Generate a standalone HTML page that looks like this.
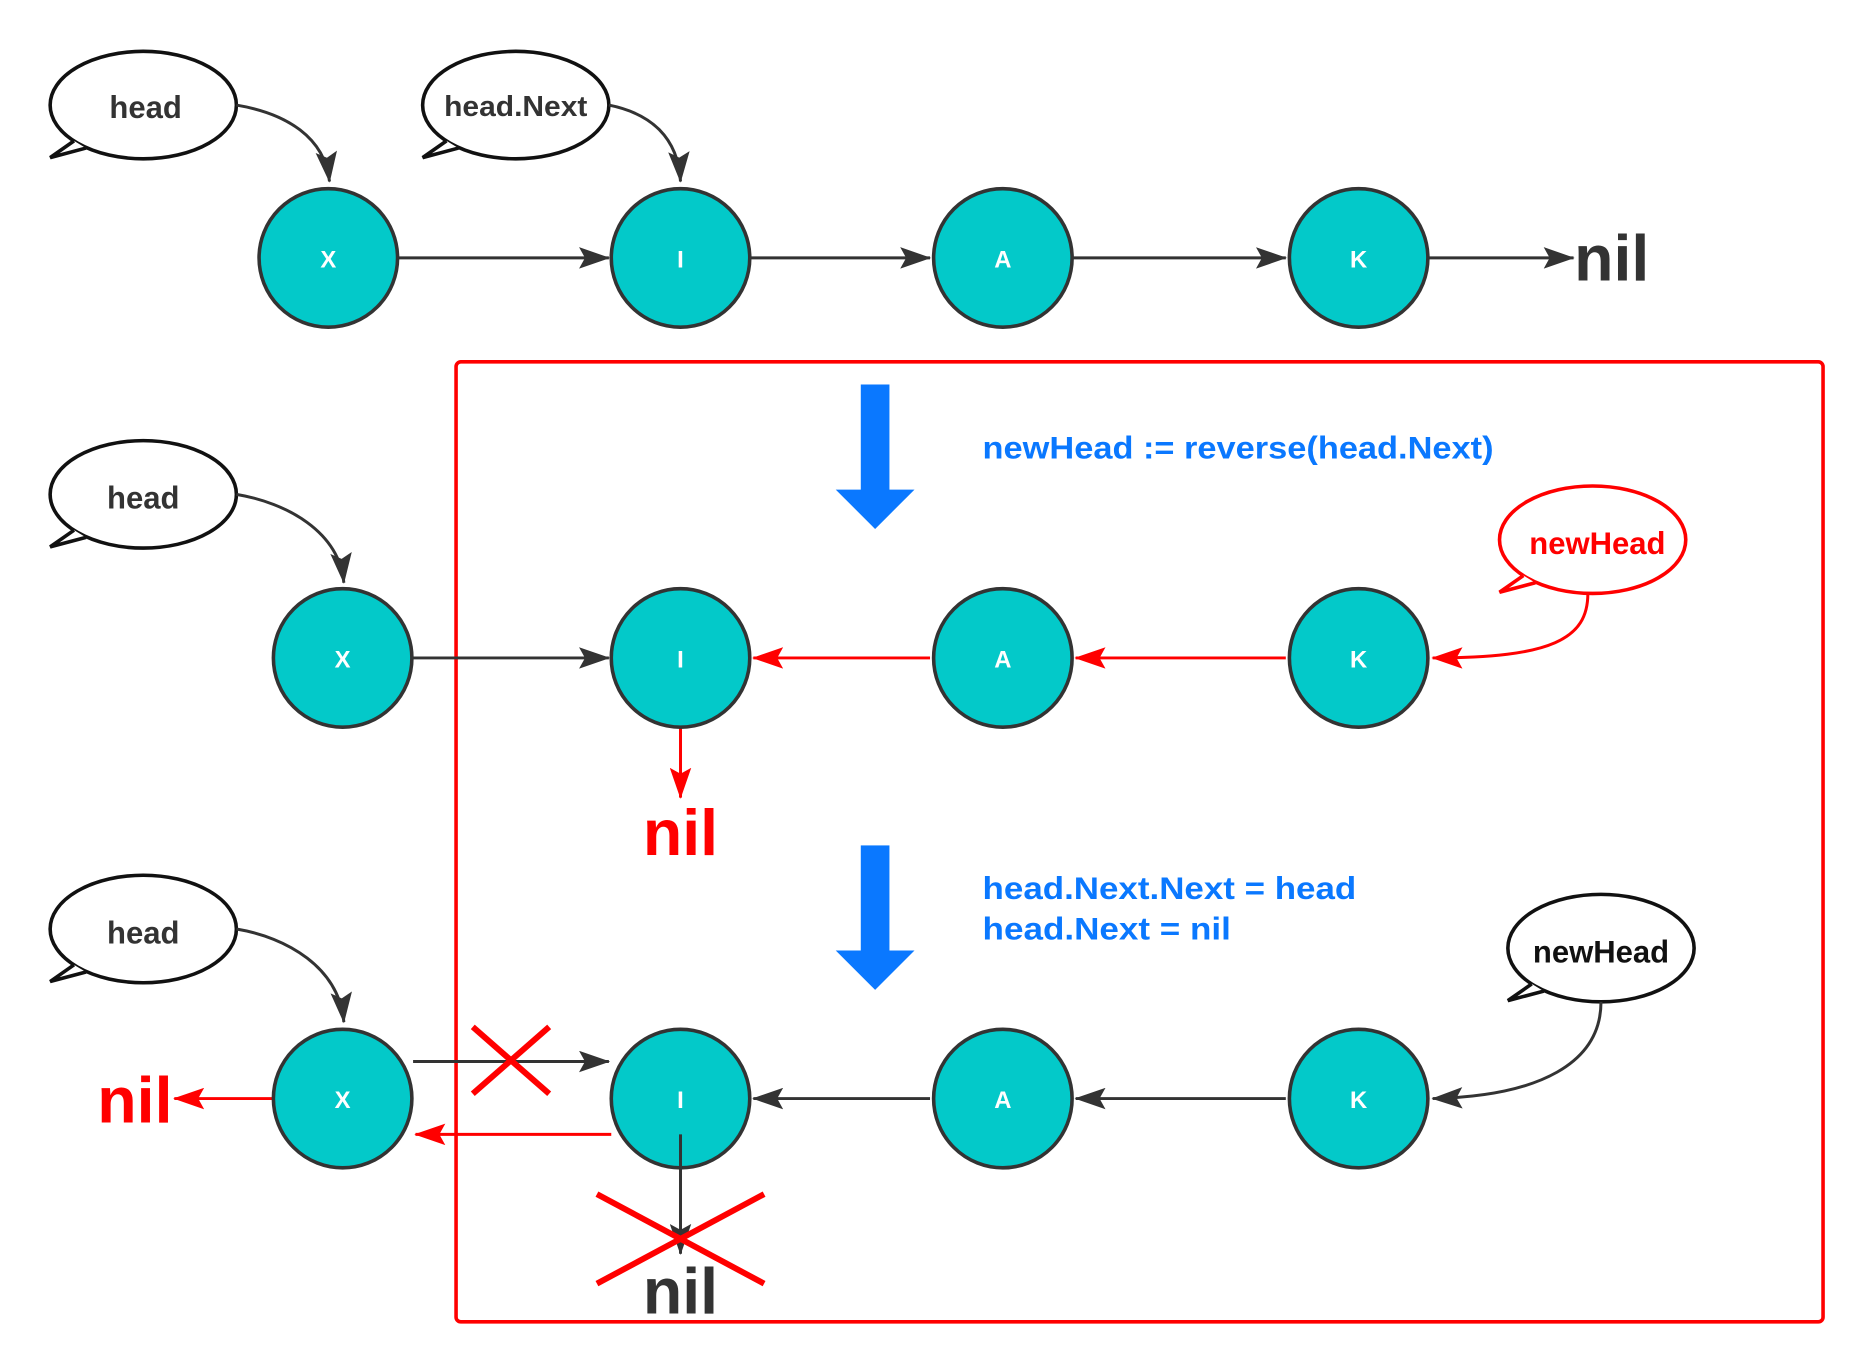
<!DOCTYPE html>
<html><head><meta charset="utf-8"><style>html,body{margin:0;padding:0;background:#fff}svg{display:block}</style></head>
<body>
<svg width="1872" height="1372" viewBox="0 0 1568 1149" preserveAspectRatio="none" xmlns="http://www.w3.org/2000/svg" font-family="'Liberation Sans', sans-serif">
<defs>
<marker id="ab2" markerWidth="26" markerHeight="18" refX="25" refY="9" orient="auto" markerUnits="userSpaceOnUse"><path d="M0,0 L26,9 L0,18 L5,9 z" fill="#333"/></marker>
<marker id="ar2" markerWidth="26" markerHeight="18" refX="25" refY="9" orient="auto" markerUnits="userSpaceOnUse"><path d="M0,0 L26,9 L0,18 L5,9 z" fill="#f00"/></marker>
</defs>
<rect x="382" y="303" width="1145" height="804" rx="4" fill="none" stroke="#f00" stroke-width="3"/>

<!-- bubbles -->
<g stroke-width="3" fill="#fff">
<g stroke="#111"><ellipse cx="120" cy="88" rx="78" ry="45"/><path d="M62,118 L42,132 L72,124" /></g>
<g stroke="#111"><ellipse cx="432" cy="88" rx="78" ry="45"/><path d="M374,118 L354,132 L384,124"/></g>
<g stroke="#111"><ellipse cx="120" cy="414" rx="78" ry="45"/><path d="M62,444 L42,458 L72,450"/></g>
<g stroke="#111"><ellipse cx="120" cy="778" rx="78" ry="45"/><path d="M62,808 L42,822 L72,814"/></g>
<g stroke="#f00"><ellipse cx="1334" cy="452" rx="78" ry="45"/><path d="M1276,482 L1256,496 L1286,488"/></g>
<g stroke="#111"><ellipse cx="1341" cy="794" rx="78" ry="45"/><path d="M1283,824 L1263,838 L1293,830"/></g>
</g>
<g font-weight="bold" font-size="26" text-anchor="middle" fill="#333">
<text x="122" y="99">head</text>
<text x="432" y="97" font-size="24" textLength="120" lengthAdjust="spacingAndGlyphs">head.Next</text>
<text x="120" y="426">head</text>
<text x="120" y="790">head</text>
<text x="1338" y="464" fill="#f00">newHead</text>
<text x="1341" y="806" fill="#111">newHead</text>
</g>

<!-- curved pointers -->
<g fill="none" stroke="#333" stroke-width="2.5">
<path d="M198,88 C240,95 272,115 276,152" marker-end="url(#ab2)"/>
<path d="M510,88 C545,95 568,115 570,152" marker-end="url(#ab2)"/>
<path d="M198,414 C240,421 284,445 288,488" marker-end="url(#ab2)"/>
<path d="M198,778 C240,785 284,810 288,856" marker-end="url(#ab2)"/>
<path d="M1341,839 C1341,890 1290,918 1200,920" marker-end="url(#ab2)"/>
</g>
<path d="M1330,497 C1330,535 1300,551 1200,551" fill="none" stroke="#f00" stroke-width="2.5" marker-end="url(#ar2)"/>

<g stroke="#333" stroke-width="2.5">
<line x1="334" y1="216" x2="510" y2="216" marker-end="url(#ab2)"/>
<line x1="629" y1="216" x2="779" y2="216" marker-end="url(#ab2)"/>
<line x1="899" y1="216" x2="1077" y2="216" marker-end="url(#ab2)"/>
<line x1="1197" y1="216" x2="1318" y2="216" marker-end="url(#ab2)"/>
<line x1="346" y1="551" x2="510" y2="551" marker-end="url(#ab2)"/>
<line x1="779" y1="920" x2="631" y2="920" marker-end="url(#ab2)"/>
<line x1="1077" y1="920" x2="901" y2="920" marker-end="url(#ab2)"/>
<line x1="346" y1="889" x2="510" y2="889" marker-end="url(#ab2)"/>
</g>
<g stroke="#f00" stroke-width="2.5">
<line x1="779" y1="551" x2="631" y2="551" marker-end="url(#ar2)"/>
<line x1="1077" y1="551" x2="901" y2="551" marker-end="url(#ar2)"/>
<line x1="570" y1="610" x2="570" y2="668" marker-end="url(#ar2)"/>
<line x1="228" y1="920" x2="146" y2="920" marker-end="url(#ar2)"/>
<line x1="512" y1="950" x2="348" y2="950" marker-end="url(#ar2)"/>
</g>

<!-- nodes -->
<g fill="#03c9c9" stroke="#333" stroke-width="3">
<circle cx="275" cy="216" r="58"/><circle cx="570" cy="216" r="58"/><circle cx="840" cy="216" r="58"/><circle cx="1138" cy="216" r="58"/>
<circle cx="287" cy="551" r="58"/><circle cx="570" cy="551" r="58"/><circle cx="840" cy="551" r="58"/><circle cx="1138" cy="551" r="58"/>
<circle cx="287" cy="920" r="58"/><circle cx="570" cy="920" r="58"/><circle cx="840" cy="920" r="58"/><circle cx="1138" cy="920" r="58"/>
</g>
<g fill="#fff" font-weight="bold" font-size="20" text-anchor="middle">
<text x="275" y="224">X</text><text x="570" y="224">I</text><text x="840" y="224">A</text><text x="1138" y="224">K</text>
<text x="287" y="559">X</text><text x="570" y="559">I</text><text x="840" y="559">A</text><text x="1138" y="559">K</text>
<text x="287" y="928">X</text><text x="570" y="928">I</text><text x="840" y="928">A</text><text x="1138" y="928">K</text>
</g>
<line x1="570" y1="950" x2="570" y2="1050" stroke="#333" stroke-width="2.5" marker-end="url(#ab2)"/>

<g font-weight="bold" font-size="54" text-anchor="middle">
<text x="1350" y="235" fill="#333">nil</text>
<text x="570" y="716" fill="#f00">nil</text>
<text x="113" y="940" fill="#f00">nil</text>
<text x="570" y="1100" fill="#333">nil</text>
</g>

<g stroke="#f00" stroke-width="5">
<line x1="396" y1="860" x2="460" y2="916"/><line x1="460" y1="860" x2="396" y2="916"/>
<line x1="500" y1="1000" x2="640" y2="1075"/><line x1="640" y1="1000" x2="500" y2="1075"/>
</g>

<g fill="#0a78ff">
<rect x="721" y="322" width="24" height="90"/><path d="M700,410 L766,410 L733,443 Z"/>
<rect x="721" y="708" width="24" height="90"/><path d="M700,796 L766,796 L733,829 Z"/>
</g>
<g fill="#0a78ff" font-weight="bold" font-size="26">
<text x="823" y="384" textLength="428" lengthAdjust="spacingAndGlyphs">newHead := reverse(head.Next)</text>
<text x="823" y="753" textLength="313" lengthAdjust="spacingAndGlyphs">head.Next.Next = head</text>
<text x="823" y="787" textLength="208" lengthAdjust="spacingAndGlyphs">head.Next = nil</text>
</g>
</svg>
</body></html>
